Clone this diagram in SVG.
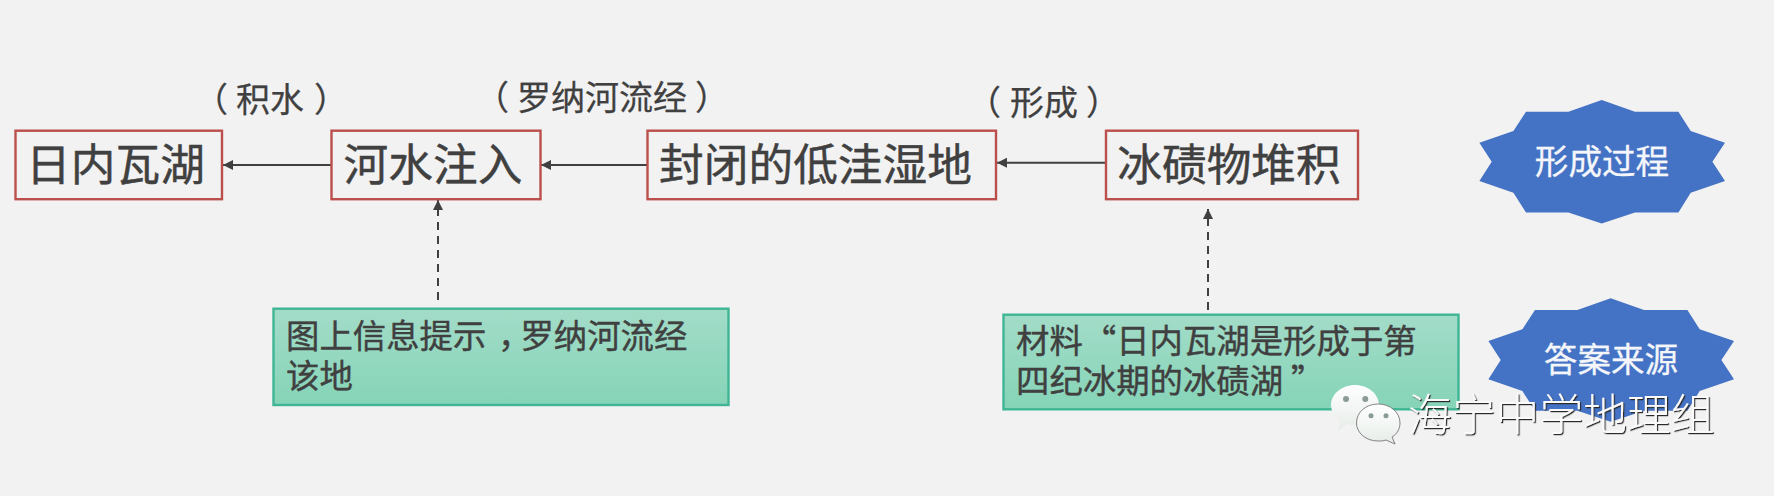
<svg xmlns="http://www.w3.org/2000/svg" width="1774" height="496" viewBox="0 0 1774 496" lang="zh-CN">
<style>
text{font-family:"Noto Sans CJK SC","Liberation Sans",sans-serif;fill:#404040;stroke:#404040;stroke-width:.45}
.box{fill:#F2F2F2;stroke:#BB4F4B;stroke-width:2.4}
.title{font-size:44.7px;text-anchor:middle}
.lab{font-size:34px;stroke-width:.25}
.note{fill:url(#g);stroke:#3FB594;stroke-width:2.4}
.nt{font-size:33.4px;stroke-width:.4}
.star{fill:#4472C4}
.st{font-size:33.6px;fill:#F4F6FA;stroke:#F4F6FA;stroke-width:.3;text-anchor:middle}
.cn{stroke:#404040;stroke-width:2;fill:none}
.solid{marker-end:url(#a)}
.dash{stroke-dasharray:8 6;marker-end:url(#a)}
.wm{font-size:43.800px;fill:#FAFAFA;stroke:none;font-weight:300;filter:url(#sh)}
</style>
<defs>
<linearGradient id="g" x1="0" y1="0" x2="0" y2="1"><stop offset="0" stop-color="#A3DCC8"/><stop offset="1" stop-color="#85D4B8"/></linearGradient>
<linearGradient id="w" x1="0" y1="0" x2="0" y2="1"><stop offset="0" stop-color="#FFFFFF"/><stop offset="1" stop-color="#E6ECE8"/></linearGradient>
<marker id="a" markerUnits="userSpaceOnUse" markerWidth="12" markerHeight="12" refX="10" refY="6" orient="auto"><path d="M0 1 L10 6 L0 11 Z" fill="#404040"/></marker>
<filter id="sh" x="-5%" y="-10%" width="110%" height="120%"><feDropShadow dx="1.200" dy="1.200" stdDeviation="0.2" flood-color="#2A2A2A" flood-opacity="1"/></filter>
<polygon id="burst" points="0,-61.7 33.3,-50 76.7,-50 89,-30.7 123.3,-19 110.7,0 123.3,19.3 89,31 76.7,50.7 33.3,50.7 0,61.7 -33.3,50.7 -75.7,50.7 -88.3,31 -122.3,19.3 -110,0 -122.3,-19 -88.3,-30.7 -75.7,-50 -33.3,-50"/>
</defs>
<rect width="1774" height="496" fill="#F2F2F2"/>
<g id="connectors">
<path class="cn solid" d="M331 165H223"/>
<path class="cn solid" d="M647 165H541"/>
<path class="cn solid" d="M1106 162.700H997"/>
<path class="cn dash" d="M438 300V200"/>
<path class="cn dash" d="M1208 310V209"/>
</g>
<g id="n1"><rect class="box" x="15.500" y="130.700" width="206.500" height="68.500"/><text class="title" x="115.500" y="181">日内瓦湖</text></g>
<g id="n2"><rect class="box" x="331.500" y="130.700" width="209" height="68.500"/><text class="title" x="433" y="181">河水注入</text></g>
<g id="n3"><rect class="box" x="647.500" y="130.700" width="348.500" height="68.500"/><text class="title" x="815.500" y="181">封闭的低洼湿地</text></g>
<g id="n4"><rect class="box" x="1106" y="130.700" width="252" height="68.500"/><text class="title" x="1229" y="181">冰碛物堆积</text></g>
<g id="l1"><text class="lab" y="112"><tspan x="194">（</tspan><tspan x="236">积水</tspan><tspan x="314">）</tspan></text></g>
<g id="l2"><text class="lab" y="110"><tspan x="475">（</tspan><tspan x="517">罗纳河流经</tspan><tspan x="695">）</tspan></text></g>
<g id="l3"><text class="lab" y="115"><tspan x="967">（</tspan><tspan x="1010">形成</tspan><tspan x="1086">）</tspan></text></g>
<g id="note1"><rect class="note" x="273.500" y="308.700" width="455" height="96.300"/><text class="nt" y="348"><tspan x="286">图上信息提示</tspan><tspan x="498">，</tspan><tspan x="520.400">罗纳河流经</tspan><tspan x="286" y="388">该地</tspan></text></g>
<g id="note2"><rect class="note" x="1003.500" y="314.700" width="455" height="94.600"/><text class="nt" y="353"><tspan x="1016">材料“日内瓦湖是形成于第</tspan><tspan x="1016" y="393">四纪冰期的冰碛湖</tspan><tspan x="1291" y="393">”</tspan></text></g>
<g id="s1"><use href="#burst" class="star" x="1601.700" y="161.700"/><text class="st" x="1602" y="174">形成过程</text></g>
<g id="s2"><use href="#burst" class="star" x="1610.700" y="360"/><text class="st" x="1611" y="372">答案来源</text></g>
<g id="watermark">
<path d="M1355 385C1368 385 1379 394 1379 405C1379 416 1368 425 1355 425C1352 425 1350 425 1347 424L1338 431L1340 421C1335 417 1331 411 1331 405C1331 394 1342 385 1355 385Z" fill="url(#w)"/>
<circle cx="1346" cy="399" r="3" fill="#8A9A94"/><circle cx="1365.300" cy="399" r="3" fill="#8A9A94"/>
<path d="M1378 404C1390 404 1400 412 1400 423C1400 429 1397 434 1392 437L1395 444L1386 440C1383 441 1381 441 1378 441C1366 441 1356.500 433 1356.500 423C1356.500 412 1366 404 1378 404Z" fill="url(#w)" stroke="#666666" stroke-width="0.8"/>
<circle cx="1371" cy="415.700" r="2.500" fill="#8A9A94"/><circle cx="1386" cy="415.700" r="2.500" fill="#8A9A94"/>
<text class="wm" x="1408" y="431">海宁中学地理组</text>
</g>
</svg>
